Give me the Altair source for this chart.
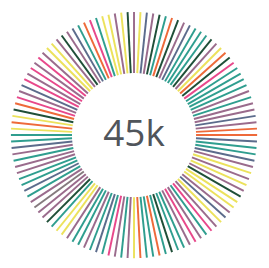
import altair as alt
import pandas as pd

# spoke categories, clockwise from 12 o'clock
spoke_groups = (
    # 12 -> 3
    ["M", "Y", "S", "M", "D", "T", "O", "D", "M", "S", "T", "T", "T", "D", "M",
     "Y", "O", "D", "P", "T", "T", "T", "T", "M", "T", "M", "M", "S", "M", "O"]
    # 3 -> 6
    + ["O", "S", "T", "T", "S", "M", "Y", "M", "Y", "M", "D", "Y", "Y", "M", "S",
       "Y", "M", "P", "T", "M", "P", "M", "T", "T", "D", "T", "O", "T", "T", "O"]
    # 6 -> 9
    + ["Y", "M", "T", "M", "P", "T", "S", "T", "M", "T", "T", "M", "Y", "Y", "T",
       "D", "M", "M", "G", "M", "T", "S", "T", "T", "M", "M", "T", "M", "S", "T"]
    # 9 -> 12
    + ["T", "Y", "O", "Y", "D", "O", "P", "M", "S", "P", "M", "P", "M", "P", "M",
       "Y", "Y", "M", "D", "M", "S", "T", "O", "P", "T", "Y", "Y", "M", "Y", "D"]
)
spoke_values = [1.0] * len(spoke_groups)
group_names = ["T", "Y", "P", "M", "O", "D", "S", "G"]
group_colors = ["#2f9e8f", "#ece25c", "#e8488b", "#9a6b8c", "#ee6a3a",
                "#1f4f38", "#5c6c8c", "#857a7e"]
center_label = ["45k"]

N = len(spoke_groups)
df = pd.DataFrame({
    "idx": list(range(N)),
    "group": spoke_groups,
    "value": spoke_values,
})

R_IN = 64
R_OUT = 127

xs = alt.Scale(domain=[-130, 131], nice=False, zero=False)
ys = alt.Scale(domain=[-133, 127], nice=False, zero=False)

spokes = alt.Chart(df).transform_calculate(
    a=f"datum.idx / {N} * 2 * PI",
).transform_calculate(
    x1=f"{R_IN} * sin(datum.a)",
    y1=f"{R_IN} * cos(datum.a)",
    x2=f"({R_IN} + ({R_OUT} - {R_IN}) * datum.value) * sin(datum.a)",
    y2=f"({R_IN} + ({R_OUT} - {R_IN}) * datum.value) * cos(datum.a)",
).mark_rule(strokeWidth=2, strokeCap="butt").encode(
    x=alt.X("x1:Q", scale=xs, axis=None),
    y=alt.Y("y1:Q", scale=ys, axis=None),
    x2="x2:Q",
    y2="y2:Q",
    color=alt.Color("group:N", scale=alt.Scale(domain=group_names, range=group_colors), legend=None),
)

label = alt.Chart(pd.DataFrame({"label": center_label, "cx": [0], "cy": [0]})).mark_text(
    font="Open Sans", fontSize=38, color="#50555b", baseline="middle", align="center"
).encode(
    x=alt.X("cx:Q", scale=xs, axis=None),
    y=alt.Y("cy:Q", scale=ys, axis=None),
    text="label:N",
)

chart = alt.layer(spokes, label).properties(
    width=261, height=260, padding=0, autosize="none"
).configure_view(stroke=None)

chart.save("out.html", embed_options={"renderer": "svg", "actions": False})
